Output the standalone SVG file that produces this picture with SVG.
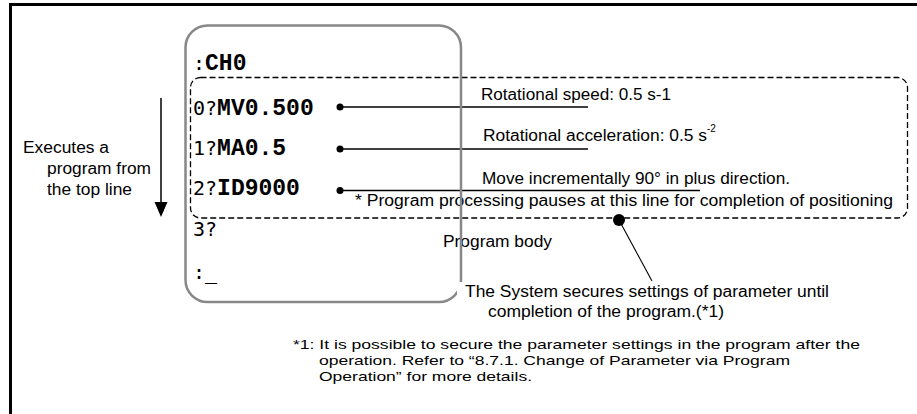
<svg xmlns="http://www.w3.org/2000/svg" width="917" height="414" viewBox="0 0 917 414">
<style>
.t{font-family:"Liberation Sans",Arial,sans-serif;font-size:16px;fill:#000}
.f{font-family:"Liberation Sans",Arial,sans-serif;font-size:13.5px;fill:#000}
.m{font-family:"DejaVu Sans Mono","Liberation Mono",monospace;font-size:20px;fill:#000}
.b{font-family:"Liberation Mono","Courier New",monospace;font-size:23px;font-weight:bold;fill:#000}
.ln{stroke:#000;stroke-width:1.5;fill:none}
.dot{fill:#000}
</style>
<rect width="917" height="414" fill="#fff"/>
<g id="frame">
<rect x="9" y="3" width="908" height="3" fill="#000"/>
<rect x="9" y="3" width="3" height="411" fill="#000"/>
</g>
<g id="flow-arrow">
<line x1="161" y1="98" x2="161" y2="204" class="ln"/>
<polygon points="154.5,202 167.5,202 161,217" fill="#000"/>
<text class="t" x="23" y="153" textLength="86" lengthAdjust="spacingAndGlyphs">Executes a</text>
<text class="t" x="47" y="174" textLength="104" lengthAdjust="spacingAndGlyphs">program from</text>
<text class="t" x="47" y="195" textLength="85" lengthAdjust="spacingAndGlyphs">the top line</text>
</g>
<g id="program-lines">
<text x="193" y="70"><tspan class="m">:</tspan><tspan class="b">CH0</tspan></text>
<text x="193" y="115"><tspan class="m">0?</tspan><tspan class="b">MV0.500</tspan></text>
<text x="193" y="155"><tspan class="m">1?</tspan><tspan class="b">MA0.5</tspan></text>
<text x="193" y="195"><tspan class="m">2?</tspan><tspan class="b">ID9000</tspan></text>
<text class="m" x="193" y="236">3?</text>
<text class="m" x="193" y="279">:_</text>
</g>
<g id="program-body">
<rect x="190.5" y="77.5" width="717" height="140.5" rx="10" ry="10" fill="none" stroke="#000" stroke-width="1.3" stroke-dasharray="6 3"/>
</g>
<g id="connectors">
<circle class="dot" cx="340" cy="107" r="3.5"/>
<line class="ln" x1="340" y1="107" x2="588" y2="107"/>
<circle class="dot" cx="340" cy="149" r="3.5"/>
<line class="ln" x1="340" y1="149" x2="588" y2="149"/>
<circle class="dot" cx="340" cy="190.5" r="3.5"/>
<line class="ln" x1="340" y1="190.5" x2="700" y2="190.5"/>
<circle class="dot" cx="619" cy="220" r="6"/>
<line x1="619" y1="220" x2="652" y2="281" stroke="#000" stroke-width="1.1"/>
</g>
<g id="labels">
<text class="t" x="481" y="100" textLength="190" lengthAdjust="spacingAndGlyphs">Rotational speed: 0.5 s-1</text>
<text class="t" x="483" y="141" textLength="224" lengthAdjust="spacingAndGlyphs">Rotational acceleration: 0.5 s</text>
<text class="t" x="707" y="132" style="font-size:10px">-2</text>
<text class="t" x="482" y="184" textLength="308" lengthAdjust="spacingAndGlyphs">Move incrementally 90° in plus direction.</text>
<text class="t" x="355" y="206" textLength="538" lengthAdjust="spacingAndGlyphs">* Program processing pauses at this line for completion of positioning</text>
<text class="t" x="443" y="247" textLength="109" lengthAdjust="spacingAndGlyphs">Program body</text>
</g>
<g id="screen">
<rect x="185.5" y="25.5" width="275.5" height="276.5" rx="22" ry="22" fill="none" stroke="#888" stroke-width="2.5"/>
</g>
<g id="note">
<rect x="457" y="282" width="380" height="40" fill="#fff"/>
<text class="t" x="465" y="297" textLength="364" lengthAdjust="spacingAndGlyphs">The System secures settings of parameter until</text>
<text class="t" x="488" y="317" textLength="236" lengthAdjust="spacingAndGlyphs">completion of the program.(*1)</text>
</g>
<g id="footnote">
<text class="f" x="293" y="349" textLength="567" lengthAdjust="spacingAndGlyphs">*1: It is possible to secure the parameter settings in the program after the</text>
<text class="f" x="319" y="365" textLength="471" lengthAdjust="spacingAndGlyphs">operation. Refer to “8.7.1. Change of Parameter via Program</text>
<text class="f" x="319" y="381" textLength="213" lengthAdjust="spacingAndGlyphs">Operation” for more details.</text>
</g>
</svg>
